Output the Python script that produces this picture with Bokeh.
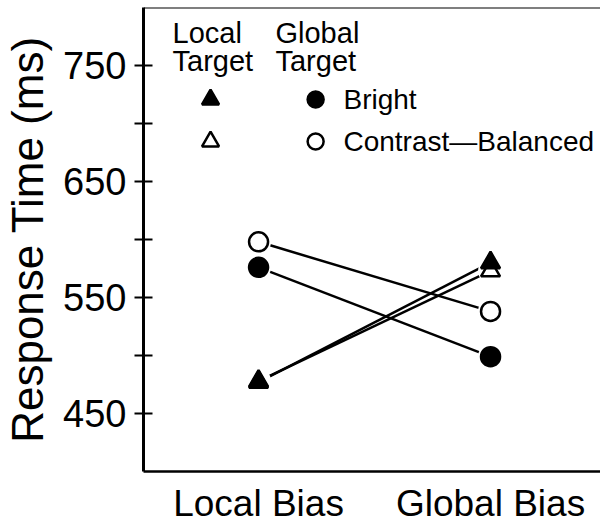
from bokeh.plotting import figure
from bokeh.models import Range1d, FixedTicker, Span
from bokeh.core.properties import value
from bokeh.embed import file_html
from bokeh.resources import INLINE

# ---- data ----
categories = ["Local Bias", "Global Bias"]
cat_pos = [0, 1]
bright_local_target = [477, 580]      # filled triangle
contrast_local_target = [478, 573]    # open triangle
bright_global_target = [576, 499]     # filled circle
contrast_global_target = [598, 538]   # open circle
y_ticks = [450, 500, 550, 600, 650, 700, 750]
y_tick_labels = {450: "450", 500: "", 550: "550", 600: "", 650: "650", 700: "", 750: "750"}
legend_headers = ["Local\nTarget", "Global\nTarget"]
legend_labels = ["Bright", "Contrast\u2014Balanced"]

FONT = "Liberation Sans"

p = figure(width=600, height=526, output_backend="svg", toolbar_location=None,
           x_range=Range1d(-0.496, 1.474), y_range=Range1d(400, 800),
           min_border_left=143, min_border_right=0, min_border_top=7, min_border_bottom=54)
p.outline_line_color = None
p.xgrid.visible = False
p.ygrid.visible = False
p.background_fill_color = "white"

# axes
ya = p.yaxis[0]
ya.ticker = FixedTicker(ticks=y_ticks)
ya.major_label_overrides = y_tick_labels
ya.minor_tick_line_color = None
ya.major_tick_in = 9
ya.major_tick_out = 9
ya.major_tick_line_width = 2
ya.axis_line_width = 3
ya.major_label_text_font = FONT
ya.major_label_text_font_size = "38px"
ya.major_label_text_color = "black"
ya.major_label_standoff = 8
ya.axis_label = "Response Time (ms)"
ya.axis_label_text_font = FONT
ya.axis_label_text_font_size = "44px"
ya.axis_label_text_font_style = "normal"
ya.axis_label_text_color = "black"
ya.axis_label_standoff = 8

xa = p.xaxis[0]
xa.ticker = FixedTicker(ticks=cat_pos)
xa.major_label_overrides = {i: c for i, c in zip(cat_pos, categories)}
xa.major_tick_line_color = None
xa.minor_tick_line_color = None
xa.major_tick_in = 0
xa.major_tick_out = 0
xa.axis_line_width = 2.5
xa.major_label_text_font = FONT
xa.major_label_text_font_size = "37px"
xa.major_label_text_color = "black"
xa.major_label_standoff = 11

p.add_layout(Span(location=800, dimension="width", line_color="black", line_width=2))

series = [
    (bright_local_target, "triangle", "black"),
    (contrast_local_target, "triangle", "white"),
    (bright_global_target, "circle", "black"),
    (contrast_global_target, "circle", "white"),
]

for ys, m, fc in series:
    p.line(cat_pos, ys, line_color="black", line_width=2.5)

for ys, m, fc in series:
    p.scatter(cat_pos, ys, marker="circle", size=25, fill_color="white", line_color=None)

for ys, m, fc in reversed(series):
    p.scatter(cat_pos, ys, marker=m, size=19, fill_color=fc, line_color="black", line_width=2.5)

# legend (layout positions in data units)
hx = [-0.371, 0.073]
for lab, x in zip(legend_headers, hx):
    l1, l2 = lab.split("\n")
    p.text([x], [778], text=[l1], text_font=value(FONT), text_font_size="29px",
           text_baseline="middle", text_align="left", text_color="black")
    p.text([x], [754], text=[l2], text_font=value(FONT), text_font_size="29px",
           text_baseline="middle", text_align="left", text_color="black")

row_y = [720.7, 684.5]
p.scatter([-0.207], [row_y[0]], marker="triangle", size=17, fill_color="black", line_color="black", line_width=2.5)
p.scatter([-0.207], [row_y[1]], marker="triangle", size=17, fill_color="white", line_color="black", line_width=2.5)
p.scatter([0.246], [row_y[0]], marker="circle", size=16, fill_color="black", line_color="black", line_width=2.5)
p.scatter([0.246], [row_y[1]], marker="circle", size=16, fill_color="white", line_color="black", line_width=2.5)
p.text([0.366, 0.366], row_y, text=legend_labels, text_font=value(FONT), text_font_size="28px",
       text_baseline="middle", text_align="left", text_color="black")

open("out.html", "w").write(file_html(p, INLINE))
